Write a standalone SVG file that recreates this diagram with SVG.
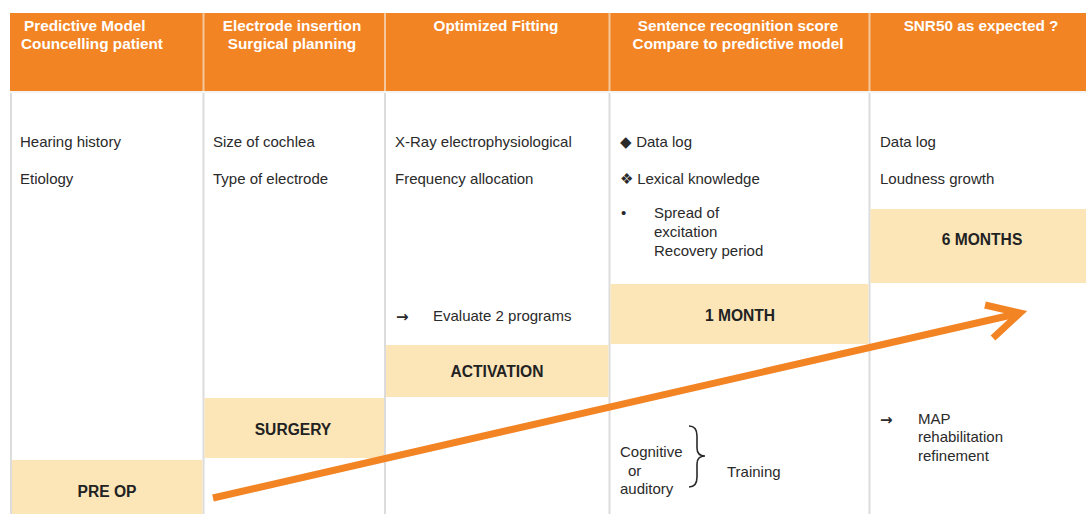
<svg xmlns="http://www.w3.org/2000/svg" width="1086" height="514" viewBox="0 0 1086 514">
<style>
.hdr{fill:#f28424}
.phase{fill:#fce6b8}
.ht{font-family:"Liberation Sans",Arial,sans-serif;font-size:15.3px;font-weight:bold;fill:#ffffff}
.bt{font-family:"Liberation Sans",Arial,sans-serif;font-size:15px;fill:#2a2a2a}
.ar{font-family:"DejaVu Sans",sans-serif;font-size:15px;font-weight:bold;fill:#2a2a2a}
.pt{font-family:"Liberation Sans",Arial,sans-serif;font-size:15.6px;font-weight:bold;fill:#222222;text-anchor:middle}
.grid{stroke:#dcdcdc;stroke-width:2;fill:none}
.hgrid{stroke:#f6c79a;stroke-width:2;fill:none}
.conn{stroke:#f28424;stroke-width:7;fill:none;stroke-linecap:butt;stroke-linejoin:miter}
</style>
<rect x="0" y="0" width="1086" height="514" fill="#ffffff"/>
<g id="table">
<rect class="hdr" x="10" y="13" width="1076" height="78"/>
<line class="grid" x1="11" y1="91" x2="11" y2="514"/>
<line class="grid" x1="203.5" y1="91" x2="203.5" y2="514"/>
<line class="grid" x1="385" y1="91" x2="385" y2="514"/>
<line class="grid" x1="609.5" y1="91" x2="609.5" y2="514"/>
<line class="grid" x1="869.5" y1="91" x2="869.5" y2="514"/>
<line class="hgrid" x1="203.5" y1="13" x2="203.5" y2="91"/>
<line class="hgrid" x1="385" y1="13" x2="385" y2="91"/>
<line class="hgrid" x1="609.5" y1="13" x2="609.5" y2="91"/>
<line class="hgrid" x1="869.5" y1="13" x2="869.5" y2="91"/>
<line x1="10" y1="92" x2="1086" y2="92" stroke="#f4f4f4" stroke-width="2"/>
</g>
<g id="col1">
<text class="ht" x="24" y="31">Predictive Model</text>
<text class="ht" x="21" y="49">Councelling patient</text>
<text class="bt" x="20" y="147">Hearing history</text>
<text class="bt" x="20" y="184">Etiology</text>
</g>
<g id="col2">
<text class="ht" x="292" y="31" text-anchor="middle">Electrode insertion</text>
<text class="ht" x="292" y="49" text-anchor="middle">Surgical planning</text>
<text class="bt" x="213" y="147">Size of cochlea</text>
<text class="bt" x="213" y="184">Type of electrode</text>
</g>
<g id="col3">
<text class="ht" x="496" y="31" text-anchor="middle">Optimized Fitting</text>
<text class="bt" x="395" y="147">X-Ray electrophysiological</text>
<text class="bt" x="395" y="184">Frequency allocation</text>
<text class="ar" x="396" y="322">→</text>
<text class="bt" x="433" y="321">Evaluate 2 programs</text>
</g>
<g id="col4">
<text class="ht" x="738" y="31" text-anchor="middle">Sentence recognition score</text>
<text class="ht" x="738" y="49" text-anchor="middle">Compare to predictive model</text>
<text class="bt" x="620" y="147">◆ Data log</text>
<text class="bt" x="620" y="184">❖ Lexical knowledge</text>
<text class="bt" x="621" y="218">•</text>
<text class="bt" x="654" y="218">Spread of</text>
<text class="bt" x="654" y="237">excitation</text>
<text class="bt" x="654" y="256">Recovery period</text>
<text class="bt" x="620" y="457">Cognitive</text>
<text class="bt" x="628" y="476">or</text>
<text class="bt" x="620" y="494">auditory</text>
<path d="M689,426 Q697,426 697,436 L697,448 Q697,456 705,456 Q697,456 697,464 L697,477 Q697,487 689,487" fill="none" stroke="#2a2a2a" stroke-width="1.6"/>
<text class="bt" x="727" y="477">Training</text>
</g>
<g id="col5">
<text class="ht" x="981" y="31" text-anchor="middle">SNR50 as expected ?</text>
<text class="bt" x="880" y="147">Data log</text>
<text class="bt" x="880" y="184">Loudness growth</text>
<text class="ar" x="880" y="425">→</text>
<text class="bt" x="918" y="424">MAP</text>
<text class="bt" x="918" y="442">rehabilitation</text>
<text class="bt" x="918" y="461">refinement</text>
</g>
<g id="preop">
<rect class="phase" x="12" y="460" width="190.5" height="54"/>
<text class="pt" x="107" y="497">PRE OP</text>
</g>
<g id="surgery">
<rect class="phase" x="204.5" y="398" width="179.5" height="60"/>
<text class="pt" x="293" y="435">SURGERY</text>
</g>
<g id="activation">
<rect class="phase" x="386" y="345" width="222.5" height="52"/>
<text class="pt" x="497" y="377">ACTIVATION</text>
</g>
<g id="onemonth">
<rect class="phase" x="610.5" y="284" width="258" height="60"/>
<text class="pt" x="740" y="321">1 MONTH</text>
</g>
<g id="sixmonths">
<rect class="phase" x="870.5" y="209" width="215.5" height="74"/>
<text class="pt" x="982" y="245">6 MONTHS</text>
</g>
<g id="connectors">
<line class="conn" x1="213" y1="498" x2="1016" y2="314"/>
<polyline class="conn" points="985,305 1020,313 993,338"/>
</g>
</svg>
